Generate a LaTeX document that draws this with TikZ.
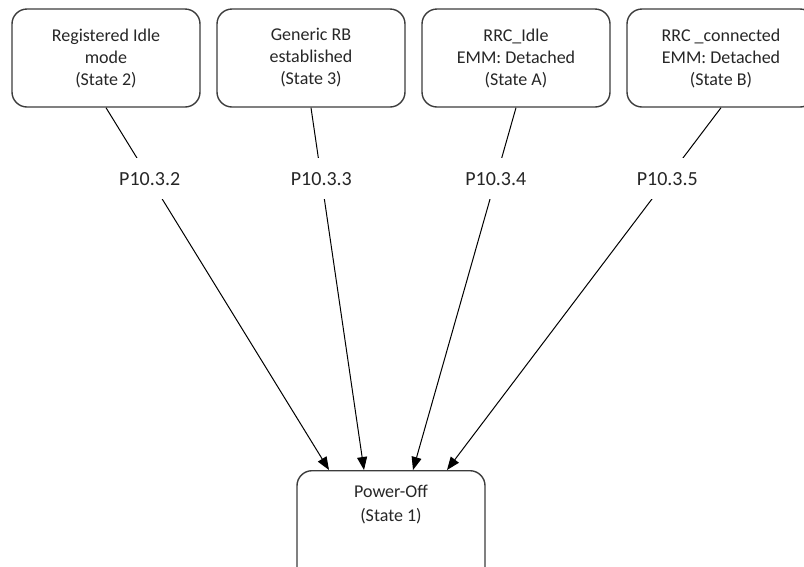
\documentclass[tikz,border=0pt]{standalone}
\usepackage{fontspec}
\setmainfont{Carlito}
\usetikzlibrary{arrows.meta}
\definecolor{frame}{HTML}{3C3C3C}
\definecolor{ink}{HTML}{262626}
\tikzset{
  statebox/.style={draw=frame, line width=1.4pt, rounded corners=15pt,
    minimum width=188pt, minimum height=98pt, inner sep=0pt,
    align=center, text=ink, font=\fontsize{18}{22}\selectfont},
  statetext/.style={align=center, text=ink, font=\fontsize{18}{24}\selectfont, inner sep=0pt},
  trans/.style={draw=black, line width=1pt, -{Triangle[length=13pt,width=10pt]}},
  proc/.style={fill=white, text=ink, font=\fontsize{20}{24}\selectfont,
    inner xsep=3pt, inner ysep=14pt, pos=0.196}
}
\begin{document}
\begin{tikzpicture}[x=1pt, y=-1pt]
\useasboundingbox (0,0) rectangle (804,566);
\clip (0,0) rectangle (804,566);

% upper states
\node[statebox] (s2) at (106,58) {Registered Idle\\mode\\(State 2)};
\node[statebox] (s3) at (311,58) {Generic RB\\established\\(State 3)};
\node[statebox] (sA) at (516,58) {RRC\_Idle\\EMM: Detached\\(State A)};
\node[statebox] (sB) at (721,58) {RRC \_connected\\EMM: Detached\\(State B)};

% power-off state, running past the lower edge
\node[statebox, anchor=north, minimum height=140pt] (off) at (391,470) {};
\node[statetext] (offtxt) at (391,505) {Power-Off\\(State 1)};

% transitions into power-off
\draw[trans] (s2.south) -- node[proc] (p2) {P10.3.2} ([xshift=-62pt]off.north);
\draw[trans] (s3.south) -- node[proc] (p3) {P10.3.3} ([xshift=-27pt]off.north);
\draw[trans] (sA.south) -- node[proc] (p4) {P10.3.4} ([xshift=22pt]off.north);
\draw[trans] (sB.south) -- node[proc] (p5) {P10.3.5} ([xshift=56pt]off.north);
\end{tikzpicture}
\end{document}
